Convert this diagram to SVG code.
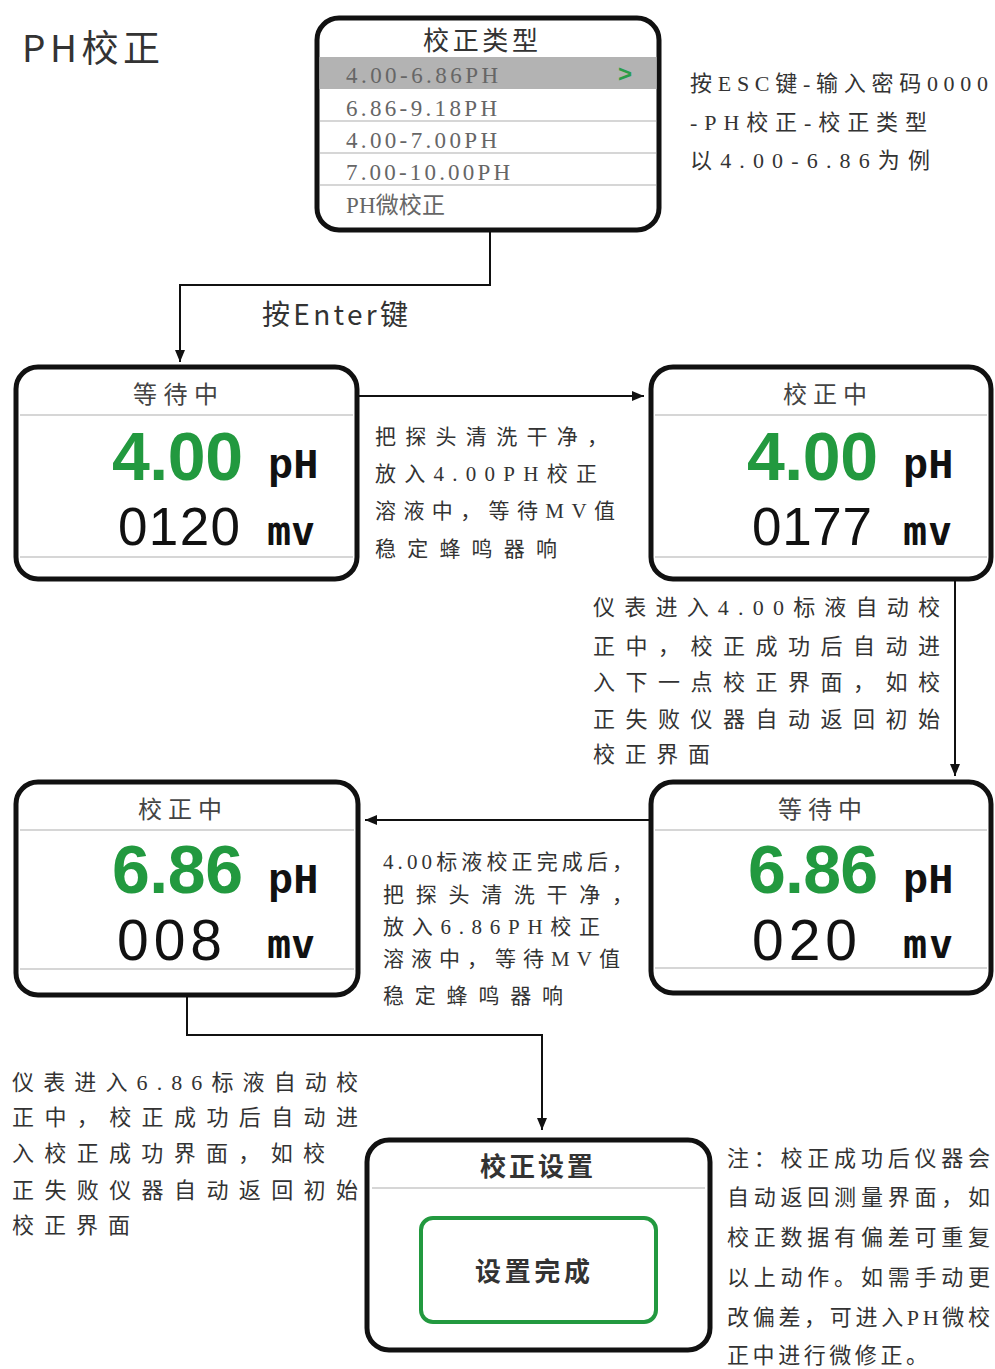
<svg xmlns="http://www.w3.org/2000/svg" width="995" height="1369" viewBox="0 0 995 1369">
<defs>
<marker id="arr" markerUnits="userSpaceOnUse" markerWidth="12" markerHeight="10" refX="12" refY="5" orient="auto">
<path d="M0,0 L12,5 L0,10 z" fill="#111"/>
</marker>
<style>
.box{fill:#fff;stroke:#111;stroke-width:5}
.sep{stroke:#c8c8c8;stroke-width:1.5}
.ttl{font-family:"Noto Sans CJK SC","Noto Sans",sans-serif;font-size:24px;fill:#444}
.big{font-family:"Liberation Sans",Arial,sans-serif;font-size:68px;font-weight:bold;fill:#22993f}
.ph{font-family:"Liberation Mono","Courier New",monospace;font-size:42px;font-weight:bold;fill:#111}
.mvn{font-family:"Liberation Sans",Arial,sans-serif;font-size:53px;fill:#111}
.mvn3{font-family:"Liberation Sans",Arial,sans-serif;font-size:57px;fill:#111}
.mv{font-family:"DejaVu Sans Mono","Liberation Mono",monospace;font-size:40px;font-weight:bold;fill:#111}
.note{font-family:"Liberation Serif","Noto Sans CJK SC",serif;font-size:21px;fill:#333}
.note22{font-family:"Liberation Serif","Noto Sans CJK SC",serif;font-size:22px;fill:#333}
.menu{font-family:"Liberation Serif","Noto Sans CJK SC",serif;font-size:23px;fill:#666}
.conn{fill:none;stroke:#111;stroke-width:2}
</style>
</defs>
<rect width="995" height="1369" fill="#fff"/>

<text x="22" y="62" font-family="Noto Sans CJK SC,Noto Sans,sans-serif" font-size="37" fill="#333" textLength="138">PH校正</text>

<g id="connectors">
<path class="conn" d="M490,232 V285 H180 V362" marker-end="url(#arr)"/>
<path class="conn" d="M359,396 H644" marker-end="url(#arr)"/>
<path class="conn" d="M955,581 V776" marker-end="url(#arr)"/>
<path class="conn" d="M650,820 H365" marker-end="url(#arr)"/>
<path class="conn" d="M187,996 V1035 H542 V1130" marker-end="url(#arr)"/>
<text x="262" y="325" font-family="Noto Sans CJK SC,Noto Sans,sans-serif" font-size="28" fill="#333" textLength="146">按Enter键</text>
</g>

<g id="menu">
<rect class="box" x="317" y="18" width="342" height="212" rx="22"/>
<rect x="319.5" y="57" width="337" height="32" fill="#b3b3b3"/>
<line class="sep" x1="320" y1="121" x2="656" y2="121"/>
<line class="sep" x1="320" y1="153" x2="656" y2="153"/>
<line class="sep" x1="320" y1="185" x2="656" y2="185"/>
<text x="423" y="50" font-family="Noto Sans CJK SC,sans-serif" font-size="26" fill="#333" textLength="115">校正类型</text>
<text class="menu" x="346" y="83" textLength="152">4.00-6.86PH</text>
<text x="618" y="82" font-family="Liberation Sans,sans-serif" font-size="24" font-weight="bold" fill="#2a9d4a">&gt;</text>
<text class="menu" x="346" y="116" textLength="151">6.86-9.18PH</text>
<text class="menu" x="346" y="148" textLength="151">4.00-7.00PH</text>
<text class="menu" x="346" y="180" textLength="164">7.00-10.00PH</text>
<text class="menu" x="346" y="213" textLength="99">PH微校正</text>
</g>

<g id="note-top">
<text class="note22" x="690" y="91" textLength="298">按ESC键-输入密码0000</text>
<text class="note22" x="690" y="130" textLength="237">-PH校正-校正类型</text>
<text class="note22" x="690" y="168" textLength="240">以4.00-6.86为例</text>
</g>

<g id="wait1">
<rect class="box" x="16" y="367" width="341" height="212" rx="22"/>
<line class="sep" x1="20" y1="415" x2="353" y2="415"/>
<line class="sep" x1="20" y1="557" x2="353" y2="557"/>
<text class="ttl" x="133" y="403" textLength="85">等待中</text>
<text class="big" x="112" y="480" textLength="131">4.00</text>
<text class="ph" x="268" y="478">pH</text>
<text class="mvn" x="118" y="545" textLength="122">0120</text>
<text class="mv" x="267" y="545" textLength="48">mv</text>
</g>

<g id="note1">
<text class="note" x="375" y="444" textLength="233">把探头清洗干净，</text>
<text class="note" x="375" y="481" textLength="222">放入4.00PH校正</text>
<text class="note" x="375" y="518" textLength="240">溶液中，等待MV值</text>
<text class="note" x="375" y="556" textLength="182">稳定蜂鸣器响</text>
</g>

<g id="cal1">
<rect class="box" x="651" y="367" width="340" height="212" rx="22"/>
<line class="sep" x1="655" y1="415" x2="987" y2="415"/>
<line class="sep" x1="655" y1="557" x2="987" y2="557"/>
<text class="ttl" x="783" y="403" textLength="84">校正中</text>
<text class="big" x="747" y="480" textLength="131">4.00</text>
<text class="ph" x="903" y="478">pH</text>
<text class="mvn" x="752" y="545" textLength="120">0177</text>
<text class="mv" x="903" y="545" textLength="49">mv</text>
</g>

<g id="note2">
<text class="note22" x="593" y="615" textLength="347">仪表进入4.00标液自动校</text>
<text class="note22" x="593" y="654" textLength="347">正中，校正成功后自动进</text>
<text class="note22" x="593" y="690" textLength="347">入下一点校正界面，如校</text>
<text class="note22" x="593" y="727" textLength="347">正失败仪器自动返回初始</text>
<text class="note22" x="593" y="762" textLength="117">校正界面</text>
</g>

<g id="wait2">
<rect class="box" x="651" y="782" width="340" height="211" rx="22"/>
<line class="sep" x1="655" y1="830" x2="987" y2="830"/>
<line class="sep" x1="655" y1="968" x2="987" y2="968"/>
<text class="ttl" x="778" y="818" textLength="84">等待中</text>
<text class="big" x="748" y="893" textLength="130">6.86</text>
<text class="ph" x="903" y="893">pH</text>
<text class="mvn3" x="752" y="960" textLength="105">020</text>
<text class="mv" x="903" y="958" textLength="50">mv</text>
</g>

<g id="note3">
<text class="note" x="383" y="869" textLength="250">4.00标液校正完成后，</text>
<text class="note" x="383" y="902" textLength="250">把探头清洗干净，</text>
<text class="note" x="383" y="934" textLength="217">放入6.86PH校正</text>
<text class="note" x="383" y="966" textLength="237">溶液中，等待MV值</text>
<text class="note" x="383" y="1003" textLength="180">稳定蜂鸣器响</text>
</g>

<g id="cal2">
<rect class="box" x="16" y="782" width="342" height="213" rx="22"/>
<line class="sep" x1="20" y1="830" x2="354" y2="830"/>
<line class="sep" x1="20" y1="969" x2="354" y2="969"/>
<text class="ttl" x="138" y="818" textLength="84">校正中</text>
<text class="big" x="112" y="893" textLength="131">6.86</text>
<text class="ph" x="268" y="893">pH</text>
<text class="mvn3" x="117" y="960" textLength="105">008</text>
<text class="mv" x="267" y="958" textLength="48">mv</text>
</g>

<g id="note4">
<text class="note22" x="12" y="1090" textLength="346">仪表进入6.86标液自动校</text>
<text class="note22" x="12" y="1125" textLength="346">正中，校正成功后自动进</text>
<text class="note22" x="12" y="1161" textLength="313">入校正成功界面，如校</text>
<text class="note22" x="12" y="1198" textLength="346">正失败仪器自动返回初始</text>
<text class="note22" x="12" y="1233" textLength="118">校正界面</text>
</g>

<g id="done">
<rect class="box" x="367" y="1140" width="343" height="210" rx="22"/>
<line class="sep" x1="372" y1="1188" x2="705" y2="1188"/>
<text x="480" y="1176" font-family="Noto Sans CJK SC,sans-serif" font-size="26" font-weight="bold" fill="#333" textLength="113">校正设置</text>
<rect x="421" y="1218" width="235" height="104" rx="12" fill="#fff" stroke="#22993f" stroke-width="4"/>
<text x="475" y="1281" font-family="Noto Sans CJK SC,sans-serif" font-size="26" font-weight="bold" fill="#333" textLength="115">设置完成</text>
</g>

<g id="note5">
<text class="note22" x="727" y="1166" textLength="263">注：校正成功后仪器会</text>
<text class="note22" x="727" y="1205" textLength="263">自动返回测量界面，如</text>
<text class="note22" x="727" y="1245" textLength="263">校正数据有偏差可重复</text>
<text class="note22" x="727" y="1285" textLength="263">以上动作。如需手动更</text>
<text class="note22" x="727" y="1325" textLength="263">改偏差，可进入PH微校</text>
<text class="note22" x="727" y="1363" textLength="201">正中进行微修正。</text>
</g>
</svg>
